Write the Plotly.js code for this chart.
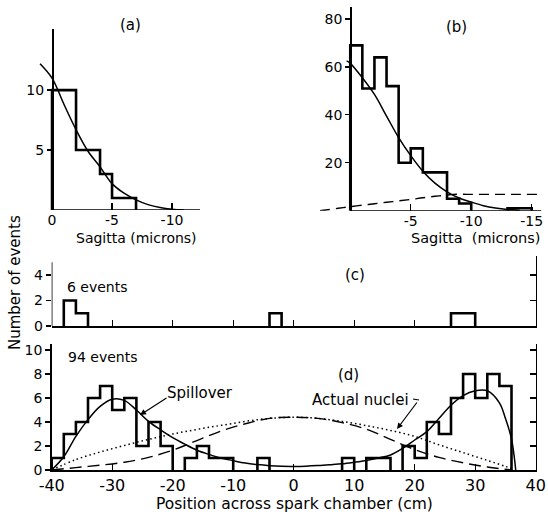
<!DOCTYPE html>
<html><head><meta charset="utf-8">
<script src="https://cdn.plot.ly/plotly-3.0.1.min.js"></script>
<style>html,body{margin:0;padding:0;background:#fff;}#chart{width:548px;height:514px;}</style>
</head><body><div id="chart"></div>
<script>
// ---------- data ----------
// (a) sagitta histogram, 1-micron bins
const sagA_edges = [0,-1,-2,-3,-4,-5,-6,-7];
const sagA_counts = [10,10,5,5,3,1,1];
const fitA_x = [1.0,0,-1,-2,-3,-4,-5,-6,-7,-8,-9,-10,-11];
const fitA_y = [12.2,11.0,8.8,6.7,4.9,3.6,2.2,1.4,0.85,0.45,0.2,0.06,0];
// (b) sagitta histogram, 1-micron bins
const sagB_edges = [0,-1,-2,-3,-4,-5,-6,-7,-8,-9,-10,-11,-12,-13,-14,-15];
const sagB_counts = [69,51,64,52,20,26,16,16,5,3,0,0,0,1,1];
const fitB_x = [0.3,0,-1,-2,-3,-4,-5,-6,-7,-8,-9,-10,-11,-12,-13,-14];
const fitB_y = [62.5,61.5,55.5,48.5,39.5,30.5,23,16.5,11.5,7.9,5.3,3.6,2.1,1.1,0.5,0.2];
const dashB_x = [2.5,2,1,0,-1,-2,-3,-4,-5,-6,-7,-8,-8.5,-10,-12,-14,-16];
const dashB_y = [0,0.3,1.0,1.7,2.3,2.9,3.5,4.1,4.7,5.4,6.0,6.5,6.8,6.8,6.8,6.8,6.8];
// (c),(d) position histograms, 2-cm bins from -40 to 36
const posEdges = [-40,-38,-36,-34,-32,-30,-28,-26,-24,-22,-20,-18,-16,-14,-12,-10,-8,-6,-4,-2,0,2,4,6,8,10,12,14,16,18,20,22,24,26,28,30,32,34,36];
const countsC = [0,2,1,0,0,0,0,0,0,0, 0,0,0,0,0,0,0,0,1,0, 0,0,0,0,0,0,0,0,0,0, 0,0,0,1,1,0,0,0];
const countsD = [1,3,4,6,7,5,6,2,4,2, 0,1,2,1,1,0,0,1,0,0, 0,0,0,0,1,0,1,1,0,2, 1,4,3,6,8,6,8,7];
// (d) curves
const spill_x = [-40,-38,-36,-34,-32,-30,-28,-26,-24,-22,-20,-18,-16,-14,-12,-10,-8,-6,-4,-2,0,2,4,6,8,10,12,14,16,18,20,22,24,26,28,30,32,34,35,36,36.7];
const spill_y = [0,1.1,2.8,4.2,5.3,5.9,5.8,5.0,4.05,3.35,2.7,2.15,1.65,1.3,1.0,0.78,0.58,0.45,0.36,0.31,0.3,0.32,0.37,0.44,0.52,0.65,0.8,1.0,1.25,1.8,2.5,3.2,4.3,5.4,6.2,6.6,6.6,5.6,4.3,2.6,0];
const dotted_x = [-40,-36,-32,-28,-24,-20,-16,-12,-8,-4,0,4,8,12,16,20,24,28,32,35,36];
const dotted_y = [0,0.87,1.5,2.04,2.55,3.0,3.38,3.72,4.05,4.3,4.4,4.3,4.05,3.7,3.3,2.8,2.1,1.45,0.8,0.3,0.1];
const dashed_x = [-40,-36,-32,-28,-24,-20,-16,-12,-8,-4,0,4,8,12,16,20,24,28,32,36];
const dashed_y = [0,0.2,0.4,0.65,1.05,1.65,2.45,3.25,3.85,4.3,4.4,4.3,3.95,3.4,2.55,1.7,1.05,0.6,0.25,0];
// tick labels
const tickA = {vals:[0,-5,-10], text:['0','-5','-10']};
const tickB = {vals:[-5,-10,-15], text:['-5','-10','-15']};
const tickD = {vals:[-40,-30,-20,-10,0,10,20,30,40], text:['-40','-30','-20','-10','0','10','20','30','40']};

// ---------- helpers ----------
const W = 548, H = 514;
const fx = p => p / W;
const fy = p => 1 - p / H;
function steps(edges, counts){
  const xs = [], ys = [];
  let open = false;
  for (let i = 0; i < counts.length; i++){
    const c = counts[i];
    if (c > 0){
      if (!open){ xs.push(edges[i]); ys.push(0); open = true; }
      xs.push(edges[i], edges[i+1]); ys.push(c, c);
    } else if (open){
      xs.push(edges[i]); ys.push(0); xs.push(null); ys.push(null); open = false;
    }
  }
  if (open){ xs.push(edges[counts.length]); ys.push(0); }
  return {x: xs, y: ys};
}
const FONT = 'DejaVu Sans, sans-serif';
const histLine = {color:'#000', width:2.6};
const fitLine = {color:'#000', width:1.5};

const hA = steps(sagA_edges, sagA_counts);
const hB = steps(sagB_edges, sagB_counts);
const hC = steps(posEdges, countsC);
const hD = steps(posEdges, countsD);

const traces = [
  {x:hA.x, y:hA.y, xaxis:'x', yaxis:'y', mode:'lines', line:histLine},
  {x:fitA_x, y:fitA_y, xaxis:'x', yaxis:'y', mode:'lines', line:Object.assign({shape:'spline'}, fitLine)},
  {x:hB.x, y:hB.y, xaxis:'x2', yaxis:'y2', mode:'lines', line:histLine},
  {x:fitB_x, y:fitB_y, xaxis:'x2', yaxis:'y2', mode:'lines', line:Object.assign({shape:'spline'}, fitLine)},
  {x:dashB_x, y:dashB_y, xaxis:'x2', yaxis:'y2', mode:'lines', line:{color:'#000', width:1.4, dash:'10px,6px', shape:'spline'}},
  {x:hC.x, y:hC.y, xaxis:'x3', yaxis:'y3', mode:'lines', line:histLine},
  {x:hD.x, y:hD.y, xaxis:'x4', yaxis:'y4', mode:'lines', line:histLine},
  {x:spill_x, y:spill_y, xaxis:'x4', yaxis:'y4', mode:'lines', line:Object.assign({shape:'spline'}, fitLine)},
  {x:dotted_x, y:dotted_y, xaxis:'x4', yaxis:'y4', mode:'lines', line:{color:'#000', width:1.5, dash:'1.5px,3px', shape:'spline'}},
  {x:dashed_x, y:dashed_y, xaxis:'x4', yaxis:'y4', mode:'lines', line:{color:'#000', width:1.4, dash:'12px,6px', shape:'spline'}},
  {x:[null], y:[null], xaxis:'x3', yaxis:'y5', mode:'lines'},
  {x:[null], y:[null], xaxis:'x4', yaxis:'y6', mode:'lines'}
];
traces.forEach(t => { t.showlegend = false; t.hoverinfo = 'skip'; });

const tickFont = {family:FONT, size:14, color:'#000'};
const baseX = {showgrid:false, zeroline:false, showline:false, ticks:'inside', ticklen:7, tickwidth:1.3, tickcolor:'#000', tickfont:tickFont, tickmode:'array', fixedrange:true};
const baseY = {showgrid:false, zeroline:false, showline:true, linecolor:'#000', linewidth:1.5, ticks:'outside', ticklen:5, tickwidth:1.3, tickcolor:'#000', tickfont:tickFont, tickmode:'array', fixedrange:true};

const layout = {
  width:W, height:H, margin:{l:0,r:0,t:0,b:0},
  paper_bgcolor:'#fff', plot_bgcolor:'rgba(0,0,0,0)',
  font:{family:FONT, color:'#000'},
  showlegend:false,
  xaxis: Object.assign({}, baseX, {domain:[fx(38), fx(200)], range:[1.17,-12.33], anchor:'y', tickvals:tickA.vals, ticktext:tickA.text}),
  yaxis: Object.assign({}, baseY, {domain:[fy(210), fy(29)], range:[0,15.1], anchor:'free', position:fx(52), tickvals:[5,10], ticktext:['5','10']}),
  xaxis2: Object.assign({}, baseX, {domain:[fx(320), fx(541.4)], range:[2.5,-15.8], anchor:'y2', tickvals:tickB.vals, ticktext:tickB.text}),
  yaxis2: Object.assign({}, baseY, {domain:[fy(210.7), fy(7)], range:[0,85], anchor:'free', position:fx(350.2), tickvals:[20,40,60,80], ticktext:['20','40','60','80']}),
  xaxis3: Object.assign({}, baseX, {domain:[fx(51.7), fx(535.7)], range:[-40,40], anchor:'y3', showline:true, linecolor:'#000', linewidth:1.5, ticklen:6, tickvals:[-30,-20,-10,0,10,20,30], showticklabels:false}),
  yaxis3: Object.assign({}, baseY, {domain:[fy(326), fy(256)], range:[0,5.49], anchor:'x3', showline:false, tickvals:[0,2,4], ticktext:['0','2','4']}),
  yaxis5: {domain:[fy(326), fy(256)], range:[0,5.49], anchor:'x3', overlaying:'y3', side:'right', showgrid:false, zeroline:false, showline:true, linecolor:'#000', linewidth:1.5, ticks:'inside', ticklen:6, tickcolor:'#000', tickwidth:1.3, tickmode:'array', tickvals:[2,4], showticklabels:false, fixedrange:true},
  xaxis4: Object.assign({}, baseX, {domain:[fx(51.7), fx(535.7)], range:[-40,40], anchor:'y4', showline:true, linecolor:'#000', linewidth:1.5, ticklen:6, tickvals:tickD.vals, ticktext:tickD.text, tickfont:{family:FONT, size:16, color:'#000'}}),
  yaxis4: Object.assign({}, baseY, {domain:[fy(470), fy(344)], range:[0,10.5], anchor:'x4', tickvals:[0,2,4,6,8,10], ticktext:['0','2','4','6','8','10']}),
  yaxis6: {domain:[fy(470), fy(344)], range:[0,10.5], anchor:'x4', overlaying:'y4', side:'right', showgrid:false, zeroline:false, showline:true, linecolor:'#000', linewidth:1.5, ticks:'inside', ticklen:6, tickcolor:'#000', tickwidth:1.3, tickmode:'array', tickvals:[2,4,6,8,10], showticklabels:false, fixedrange:true},
  shapes: [
    {type:'line', xref:'x', yref:'y', x0:0, y0:0, x1:-12.33, y1:0, line:{color:'#000', width:1.5}},
    {type:'line', xref:'x2', yref:'y2', x0:0, y0:0, x1:-15.8, y1:0, line:{color:'#000', width:1.5}},
    {type:'line', xref:'x3', yref:'y3', x0:-40, y0:0, x1:-40, y1:5.0, line:{color:'#000', width:1.5}}
  ],
  annotations: []
};
function txt(t, x, y, size){
  return {text:t, xref:'paper', yref:'paper', x:fx(x), y:fy(y), xanchor:'center', yanchor:'middle', showarrow:false, font:{family:FONT, size:size||15, color:'#000'}};
}
layout.annotations.push(
  txt('(a)', 130, 25),
  txt('(b)', 456, 27),
  txt('Sagitta (microns)', 136, 238, 14),
  txt('Sagitta  (microns)', 476, 238, 14.5),
  txt('(c)', 355, 275),
  txt('6 events', 97, 287, 14),
  txt('94 events', 102, 357, 14),
  txt('(d)', 348, 375),
  txt('Spillover', 200, 393, 15),
  txt('Actual nuclei', 361, 400, 15),
  txt('Position across spark chamber (cm)', 294, 504, 15.5),
  Object.assign(txt('Number of events', 15, 283, 15), {textangle:-90})
);
// arrows
layout.annotations.push(
  {text:'', xref:'paper', yref:'paper', x:fx(140), y:fy(415), ax:fx(168), ay:fy(397), axref:'paper', ayref:'paper', showarrow:true, arrowhead:2, arrowsize:1, arrowwidth:1.2, arrowcolor:'#000'},
  {text:'', xref:'paper', yref:'paper', x:fx(397), y:fy(429), ax:fx(418), ay:fy(401), axref:'paper', ayref:'paper', showarrow:true, arrowhead:2, arrowsize:1, arrowwidth:1.2, arrowcolor:'#000'}
);
layout.shapes.push({type:'line', xref:'paper', yref:'paper', x0:fx(413), y0:fy(399), x1:fx(419), y1:fy(400), line:{color:'#000', width:1.2}});

Plotly.newPlot('chart', traces, layout, {staticPlot:true, displayModeBar:false});
</script></body></html>
